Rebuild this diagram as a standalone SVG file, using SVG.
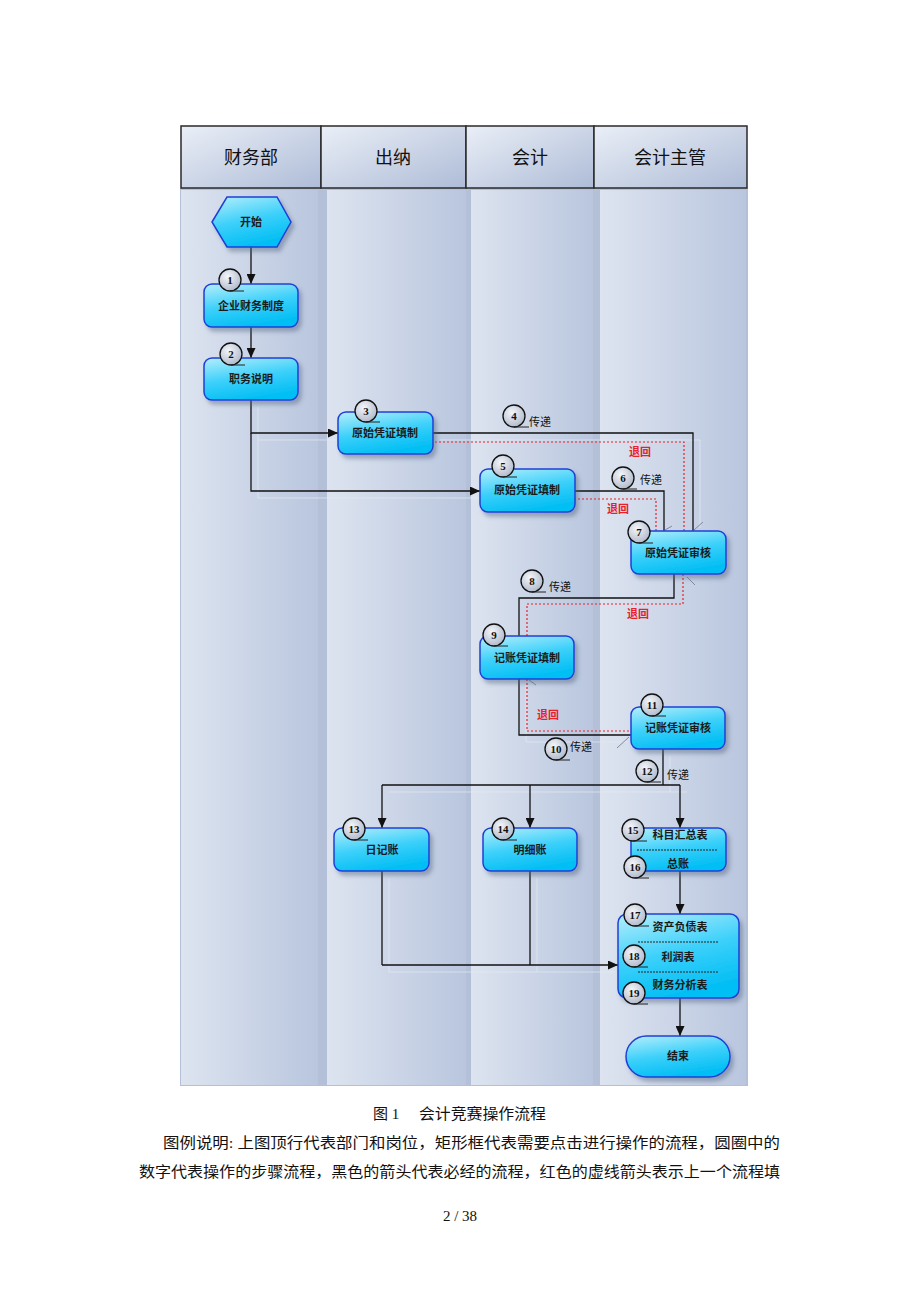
<svg xmlns="http://www.w3.org/2000/svg" width="920" height="1302" viewBox="0 0 920 1302">
<style>
.hdr{fill:url(#gHdr);stroke:#2a2a2a;stroke-width:1.5}
.htxt{font-family:"Noto Sans CJK SC",sans-serif;font-size:18px;fill:#111;text-anchor:middle}
.lane{fill:url(#gLane)}
.node{fill:url(#gNode);stroke:#1f3fd6;stroke-width:1.5;filter:url(#sh)}
.ntxt{font-family:"Noto Sans CJK SC",sans-serif;font-size:11px;font-weight:bold;fill:#1a1a1a;text-anchor:middle}
.circ{fill:url(#gCirc);stroke:#111;stroke-width:1.3}
.tail{stroke:#222;stroke-width:1}
.num{font-family:"Liberation Serif",serif;font-size:11px;font-weight:bold;fill:#111;text-anchor:middle}
.ln{fill:none;stroke:#111;stroke-width:1.3}
.lnA{fill:none;stroke:#111;stroke-width:1.3;marker-end:url(#arr)}
.red{fill:none;stroke:#e8202a;stroke-width:1.2;stroke-dasharray:2 2}
.tick{stroke:#7f8aa0;stroke-width:1}
.sh{fill:none;stroke:#e4e9f2;stroke-width:1;opacity:0.7}
.lbl{font-family:"Noto Sans CJK SC",sans-serif;font-size:11px;fill:#111}
.rlbl{font-family:"Noto Sans CJK SC",sans-serif;font-size:11px;font-weight:bold;fill:#e8202a;text-anchor:middle}
.sep{stroke:#222;stroke-width:1;stroke-dasharray:2 1}
.cap{font-family:"Liberation Serif","Noto Sans CJK SC",serif;font-size:15px;fill:#111}
</style>
<defs>
<linearGradient id="gHdr" x1="0" y1="0" x2="1" y2="1">
<stop offset="0" stop-color="#eaeff7"/><stop offset="1" stop-color="#aebcd7"/>
</linearGradient>
<linearGradient id="gLane" x1="0" y1="0" x2="1" y2="0">
<stop offset="0" stop-color="#dde4f0"/><stop offset="1" stop-color="#b9c6de"/>
</linearGradient>
<linearGradient id="gNode" x1="0" y1="0" x2="0.35" y2="1">
<stop offset="0" stop-color="#b5eefc"/><stop offset="0.55" stop-color="#3cd0fa"/><stop offset="1" stop-color="#05bff4"/>
</linearGradient>
<radialGradient id="gCirc" cx="0.4" cy="0.35" r="0.7">
<stop offset="0" stop-color="#f4f6fa"/><stop offset="1" stop-color="#aeb7c9"/>
</radialGradient>
<marker id="arr" markerUnits="userSpaceOnUse" markerWidth="10" markerHeight="9" refX="10" refY="4.5" orient="auto">
<path d="M0,0 L10,4.5 L0,9 z" fill="#111"/>
</marker>
<filter id="sh" x="-20%" y="-20%" width="150%" height="160%">
<feDropShadow dx="3" dy="4" stdDeviation="2" flood-color="#51607f" flood-opacity="0.45"/>
</filter>
</defs>
<rect width="920" height="1302" fill="#ffffff"/>

<g id="lanes">
<rect x="180" y="188" width="568" height="898" fill="#b3c0d8"/>
<rect class="lane" x="181" y="190" width="137" height="895"/>
<rect class="lane" x="327" y="190" width="139" height="895"/>
<rect class="lane" x="471" y="190" width="122" height="895"/>
<rect class="lane" x="600" y="190" width="146" height="895"/>
</g>

<g id="header">
<rect class="hdr" x="181" y="126" width="140" height="62"/>
<rect class="hdr" x="321" y="126" width="145" height="62"/>
<rect class="hdr" x="466" y="126" width="128" height="62"/>
<rect class="hdr" x="594" y="126" width="153" height="62"/>
<text class="htxt" x="251" y="164">财务部</text>
<text class="htxt" x="393" y="164">出纳</text>
<text class="htxt" x="530" y="164">会计</text>
<text class="htxt" x="670" y="164">会计主管</text>
</g>

<g id="connectors">
<g class="shadows">
<path class="sh" d="M258,407 V498 H478 M258,440 H336"/>
<path class="sh" d="M440,440 H700 V528"/>
<path class="sh" d="M526,685 V742 H628"/>
<path class="sh" d="M389,878 V972 H615 M537,878 V972"/>
<path class="sh" d="M389,792 H687 M670,756 V792"/>
</g>
<path class="lnA" d="M251,247 V284"/>
<path class="lnA" d="M251,327 V358"/>
<path class="lnA" d="M251,400 V433 H338"/>
<path class="lnA" d="M251,433 V491 H480"/>
<path class="ln" d="M433,433 H693 V531"/>
<path class="red" d="M684,531 V442 H433"/>
<path class="ln" d="M575,491 H664 V531"/>
<path class="red" d="M656,531 V499 H575"/>
<path class="ln" d="M674,574 V598 H519 V636"/>
<path class="red" d="M683,574 V604 H527 V636"/>
<path class="ln" d="M519,679 V735 H631"/>
<path class="red" d="M527,679 V731 H631"/>
<path class="ln" d="M663,749 V785"/>
<path class="ln" d="M382,785 H680"/>
<path class="lnA" d="M382,785 V828"/>
<path class="lnA" d="M530,785 V828"/>
<path class="lnA" d="M680,785 V828"/>
<path class="lnA" d="M680,871 V914"/>
<path class="ln" d="M382,871 V965"/>
<path class="ln" d="M530,871 V965"/>
<path class="lnA" d="M382,965 H618"/>
<path class="lnA" d="M680,998 V1036"/>
<line class="tick" x1="694" y1="530" x2="703" y2="522"/>
<line class="tick" x1="665" y1="530" x2="672" y2="526"/>
<line class="tick" x1="687" y1="577" x2="695" y2="585"/>
<line class="tick" x1="529" y1="680" x2="536" y2="685"/>
<line class="tick" x1="617" y1="748" x2="629" y2="737"/>
<line class="tick" x1="506" y1="637" x2="517" y2="640"/>
<g id="labels">
<circle class="circ" cx="514" cy="416" r="11"/><line class="tail" x1="514" y1="427" x2="529" y2="427"/><text class="num" x="514" y="420">4</text>
<text class="lbl" x="529" y="426">传递</text>
<circle class="circ" cx="623" cy="478" r="11"/><line class="tail" x1="623" y1="489" x2="637" y2="489"/><text class="num" x="623" y="482">6</text>
<text class="lbl" x="640" y="484">传递</text>
<circle class="circ" cx="532" cy="581" r="11"/><line class="tail" x1="532" y1="592" x2="546" y2="592"/><text class="num" x="532" y="585">8</text>
<text class="lbl" x="549" y="591">传递</text>
<circle class="circ" cx="556" cy="749" r="11"/><line class="tail" x1="556" y1="760" x2="570" y2="760"/><text class="num" x="556" y="753">10</text>
<text class="lbl" x="570" y="751">传递</text>
<circle class="circ" cx="647" cy="771" r="11"/><line class="tail" x1="647" y1="782" x2="661" y2="782"/><text class="num" x="647" y="775">12</text>
<text class="lbl" x="667" y="779">传递</text>
<text class="rlbl" x="640" y="456">退回</text>
<text class="rlbl" x="618" y="513">退回</text>
<text class="rlbl" x="638" y="618">退回</text>
<text class="rlbl" x="548" y="719">退回</text>
</g>
</g>

<g id="start">
<polygon class="node" points="212,222 227,197 277,197 291,222 277,247 227,247"/>
<text class="ntxt" x="251" y="226">开始</text>
</g>
<g id="n1">
<rect class="node" x="204" y="284" width="94" height="43" rx="8"/>
<text class="ntxt" x="251" y="310">企业财务制度</text>
<circle class="circ" cx="230" cy="280" r="11"/><line class="tail" x1="230" y1="291" x2="244" y2="291"/><text class="num" x="230" y="284">1</text>
</g>
<g id="n2">
<rect class="node" x="204" y="358" width="94" height="42" rx="8"/>
<text class="ntxt" x="251" y="383">职务说明</text>
<circle class="circ" cx="231" cy="354" r="11"/><line class="tail" x1="231" y1="365" x2="245" y2="365"/><text class="num" x="231" y="358">2</text>
</g>
<g id="n3">
<rect class="node" x="338" y="412" width="95" height="42" rx="8"/>
<text class="ntxt" x="385" y="437">原始凭证填制</text>
<circle class="circ" cx="366" cy="411" r="11"/><line class="tail" x1="366" y1="422" x2="380" y2="422"/><text class="num" x="366" y="415">3</text>
</g>
<g id="n5">
<rect class="node" x="480" y="469" width="95" height="43" rx="8"/>
<text class="ntxt" x="527" y="494">原始凭证填制</text>
<circle class="circ" cx="503" cy="466" r="11"/><line class="tail" x1="503" y1="477" x2="517" y2="477"/><text class="num" x="503" y="470">5</text>
</g>
<g id="n7">
<rect class="node" x="631" y="531" width="95" height="43" rx="8"/>
<text class="ntxt" x="678" y="557">原始凭证审核</text>
<circle class="circ" cx="639" cy="532" r="11"/><line class="tail" x1="639" y1="543" x2="653" y2="543"/><text class="num" x="639" y="536">7</text>
</g>
<g id="n9">
<rect class="node" x="480" y="636" width="94" height="43" rx="8"/>
<text class="ntxt" x="527" y="662">记账凭证填制</text>
<circle class="circ" cx="494" cy="635" r="11"/><line class="tail" x1="494" y1="646" x2="508" y2="646"/><text class="num" x="494" y="639">9</text>
</g>
<g id="n11">
<rect class="node" x="631" y="707" width="94" height="42" rx="8"/>
<text class="ntxt" x="678" y="732">记账凭证审核</text>
<circle class="circ" cx="652" cy="705" r="11"/><line class="tail" x1="652" y1="716" x2="666" y2="716"/><text class="num" x="652" y="709">11</text>
</g>
<g id="n13">
<rect class="node" x="334" y="828" width="95" height="43" rx="8"/>
<text class="ntxt" x="382" y="854">日记账</text>
<circle class="circ" cx="354" cy="829" r="11"/><line class="tail" x1="354" y1="840" x2="368" y2="840"/><text class="num" x="354" y="833">13</text>
</g>
<g id="n14">
<rect class="node" x="483" y="828" width="94" height="43" rx="8"/>
<text class="ntxt" x="530" y="854">明细账</text>
<circle class="circ" cx="503" cy="829" r="11"/><line class="tail" x1="503" y1="840" x2="517" y2="840"/><text class="num" x="503" y="833">14</text>
</g>
<g id="n15">
<rect class="node" x="631" y="828" width="95" height="43" rx="8"/>
<text class="ntxt" x="680" y="839">科目汇总表</text>
<line class="sep" x1="637" y1="850" x2="718" y2="850"/>
<text class="ntxt" x="678" y="868">总账</text>
<circle class="circ" cx="633" cy="830" r="11"/><line class="tail" x1="633" y1="841" x2="647" y2="841"/><text class="num" x="633" y="834">15</text>
<circle class="circ" cx="635" cy="867" r="11"/><line class="tail" x1="635" y1="878" x2="649" y2="878"/><text class="num" x="635" y="871">16</text>
</g>
<g id="n17">
<rect class="node" x="618" y="914" width="121" height="84" rx="9"/>
<text class="ntxt" x="680" y="931">资产负债表</text>
<line class="sep" x1="638" y1="942" x2="718" y2="942"/>
<text class="ntxt" x="678" y="961">利润表</text>
<line class="sep" x1="638" y1="972" x2="718" y2="972"/>
<text class="ntxt" x="680" y="989">财务分析表</text>
<circle class="circ" cx="635" cy="915" r="11"/><line class="tail" x1="635" y1="926" x2="649" y2="926"/><text class="num" x="635" y="919">17</text>
<circle class="circ" cx="634" cy="956" r="11"/><line class="tail" x1="634" y1="967" x2="648" y2="967"/><text class="num" x="634" y="960">18</text>
<circle class="circ" cx="634" cy="993" r="11"/><line class="tail" x1="634" y1="1004" x2="648" y2="1004"/><text class="num" x="634" y="997">19</text>
</g>
<g id="end">
<rect class="node" x="626" y="1036" width="104" height="41" rx="20.5"/>
<text class="ntxt" x="678" y="1060">结束</text>
</g>

<g id="caption">
<text class="cap" x="373" y="1119">图 1</text>
<text class="cap" x="419" y="1119" textLength="127" lengthAdjust="spacingAndGlyphs">会计竞赛操作流程</text>
<text class="cap" x="163" y="1148" textLength="617" lengthAdjust="spacingAndGlyphs">图例说明: 上图顶行代表部门和岗位，矩形框代表需要点击进行操作的流程，圆圈中的</text>
<text class="cap" x="139" y="1177" textLength="641" lengthAdjust="spacingAndGlyphs">数字代表操作的步骤流程，黑色的箭头代表必经的流程，红色的虚线箭头表示上一个流程填</text>
<text class="cap" x="460" y="1221" text-anchor="middle">2 / 38</text>
</g>
</svg>
